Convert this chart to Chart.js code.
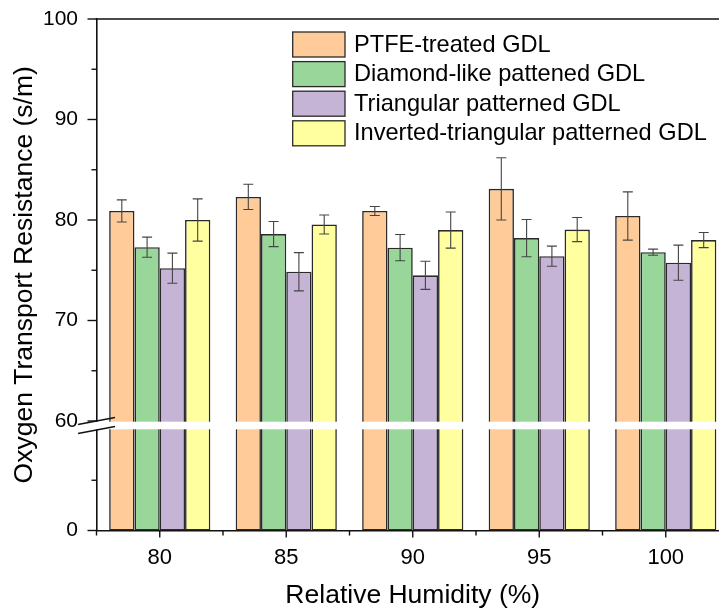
<!DOCTYPE html>
<html><head><meta charset="utf-8">
<script src="https://cdn.jsdelivr.net/npm/chart.js@4.4.0/dist/chart.umd.min.js"></script>
<style>
html,body{margin:0;padding:0;background:#fff;overflow:hidden;width:719px;height:612px}
#wrap{position:absolute;left:0;top:0;width:740px;height:612px}
</style>
</head><body><div id="wrap"><canvas id="c" width="740" height="612"></canvas></div>
<script>
// ---------- data ----------
const categories = ['80', '85', '90', '95', '100'];
const seriesNames = ['PTFE-treated GDL', 'Diamond-like pattened GDL', 'Triangular patterned GDL', 'Inverted-triangular patterned GDL'];
const ptfe        = [80.9, 82.3, 80.9, 83.1, 80.4];
const ptfeErr     = [1.1, 1.25, 0.45, 3.1, 2.4];
const diamond     = [77.3, 78.6, 77.25, 78.2, 76.8];
const diamondErr  = [1.0, 1.25, 1.3, 1.85, 0.3];
const triangular  = [75.2, 74.85, 74.5, 76.4, 75.75];
const triangularErr = [1.5, 1.9, 1.4, 1.0, 1.75];
const inverted    = [80.0, 79.55, 79.0, 79.05, 78.0];
const invertedErr = [2.1, 0.95, 1.8, 1.2, 0.75];
const yTicks   = [0, 30, 60, 65, 70, 75, 80, 85, 90, 95, 100];
const yLabeled = [0, 60, 70, 80, 90, 100];
const yBreak   = [60, 60];   // lower segment ends, upper segment starts
const yRange   = [0, 100];

// ---------- styles ----------
const FONT = "'Liberation Sans', Arial, Helvetica, sans-serif";
const colors = ['#FFCC99', '#99D69A', '#C6B4D7', '#FFFFA0'];
const EDGE = '#2a2a2a';
const LOW_FRAC = 100.5 / 511.5, GAP_FRAC = 9 / 511.5;

class BrokenLinearScale extends Chart.LinearScale {
  buildTicks() { return yTicks.map(v => ({ value: v })); }
  _frac(v) {
    if (v < yBreak[0]) return (v - yRange[0]) / (yBreak[0] - yRange[0]) * LOW_FRAC;
    return LOW_FRAC + GAP_FRAC + (v - yBreak[1]) / (yRange[1] - yBreak[1]) * (1 - LOW_FRAC - GAP_FRAC);
  }
  getPixelForValue(v) { return this.bottom - this._frac(v) * (this.bottom - this.top); }
  getValueForPixel(p) {
    const f = (this.bottom - p) / (this.bottom - this.top);
    if (f < LOW_FRAC) return yRange[0] + f / LOW_FRAC * (yBreak[0] - yRange[0]);
    return yBreak[1] + (f - LOW_FRAC - GAP_FRAC) / (1 - LOW_FRAC - GAP_FRAC) * (yRange[1] - yBreak[1]);
  }
}
BrokenLinearScale.id = 'brokenLinear';
BrokenLinearScale.defaults = Chart.LinearScale.defaults;
Chart.register(BrokenLinearScale);

const values = [ptfe, diamond, triangular, inverted];
const errors = [ptfeErr, diamondErr, triangularErr, invertedErr];

const errorBarPlugin = {
  id: 'errorBars',
  afterDatasetsDraw(chart) {
    const ctx = chart.ctx, ys = chart.scales.y;
    ctx.save();
    ctx.strokeStyle = '#444'; ctx.lineWidth = 1.1;
    chart.data.datasets.forEach((ds, di) => {
      const meta = chart.getDatasetMeta(di);
      meta.data.forEach((bar, i) => {
        const v = ds.data[i], e = ds.errors[i];
        const yt = ys.getPixelForValue(v + e), yb = ys.getPixelForValue(v - e);
        ctx.beginPath();
        ctx.moveTo(bar.x, yt); ctx.lineTo(bar.x, yb);
        ctx.moveTo(bar.x - 5, yt); ctx.lineTo(bar.x + 5, yt);
        ctx.moveTo(bar.x - 5, yb); ctx.lineTo(bar.x + 5, yb);
        ctx.stroke();
      });
    });
    ctx.restore();
  }
};

const decorPlugin = {
  id: 'decor',
  afterDraw(chart) {
    const ctx = chart.ctx, ys = chart.scales.y, xs = chart.scales.x, ca = chart.chartArea;
    ctx.save();
    // break band
    const yUp = ys.getPixelForValue(yBreak[1]);
    const yLow = ys.bottom - LOW_FRAC * (ys.bottom - ys.top);
    ctx.fillStyle = '#fff';
    ctx.fillRect(ca.left - 4, yUp + 0.7, chart.width, yLow - yUp - 1.4);
    // top frame line
    ctx.strokeStyle = '#111'; ctx.lineWidth = 1.6;
    ctx.beginPath(); ctx.moveTo(ca.left - 0.8, ca.top); ctx.lineTo(chart.width, ca.top); ctx.stroke();
    // y ticks
    ctx.lineWidth = 1.4;
    yTicks.forEach(v => {
      const len = yLabeled.includes(v) ? 9 : 5;
      const y = ys.getPixelForValue(v);
      ctx.beginPath(); ctx.moveTo(ca.left - len, y); ctx.lineTo(ca.left, y); ctx.stroke();
    });
    // x ticks
    categories.forEach((c, i) => {
      const x = xs.getPixelForValue(i);
      ctx.beginPath(); ctx.moveTo(x, ca.bottom); ctx.lineTo(x, ca.bottom + 7); ctx.stroke();
    });
    for (let i = 0; i <= categories.length; i++) {
      const x = xs.getPixelForValue(i - 0.5);
      ctx.beginPath(); ctx.moveTo(x, ca.bottom); ctx.lineTo(x, ca.bottom + 5); ctx.stroke();
    }
    // slashes
    ctx.lineWidth = 1.3;
    [yUp, yLow].forEach(y => {
      ctx.beginPath(); ctx.moveTo(ca.left - 18.5, y + 3.5); ctx.lineTo(ca.left + 18.5, y - 3.5); ctx.stroke();
    });
    // legend
    ctx.font = '23.6px ' + FONT; ctx.textBaseline = 'middle'; ctx.textAlign = 'left';
    chart.data.datasets.forEach((ds, i) => {
      const y = 32 + i * 29.6;
      ctx.fillStyle = ds.backgroundColor; ctx.fillRect(292.7, y, 52.3, 25);
      ctx.strokeStyle = EDGE; ctx.lineWidth = 1.3; ctx.strokeRect(292.7, y, 52.3, 25);
      ctx.fillStyle = '#000'; ctx.fillText(ds.label, 354, y + 13);
    });
    ctx.restore();
  }
};

new Chart(document.getElementById('c'), {
  type: 'bar',
  data: {
    labels: categories,
    datasets: seriesNames.map((n, i) => ({
      label: n, data: values[i], errors: errors[i],
      backgroundColor: colors[i], borderColor: EDGE, borderWidth: 1.6, borderSkipped: false,
      categoryPercentage: 0.8, barPercentage: 1.0
    }))
  },
  options: {
    responsive: false, animation: false, devicePixelRatio: 1,
    layout: { padding: { left: 0, right: 11, top: 19, bottom: 0 } },
    plugins: { legend: { display: false }, tooltip: { enabled: false } },
    scales: {
      x: {
        type: 'category', offset: true,
        grid: { display: false, drawTicks: false },
        border: { display: true, color: '#111', width: 1.6 },
        ticks: { color: '#000', font: { family: FONT, size: 22 }, padding: 14, maxRotation: 0, autoSkip: false },
        title: { display: true, text: 'Relative Humidity (%)', color: '#000', font: { family: FONT, size: 26.5 }, padding: { top: 0, bottom: 0 } },
        afterFit(s) { s.height = 81.5; s.paddingLeft = 0; s.paddingRight = 0; }
      },
      y: {
        type: 'brokenLinear', min: yRange[0], max: yRange[1],
        grid: { display: false, drawTicks: false },
        border: { display: true, color: '#111', width: 1.6 },
        ticks: { color: '#000', font: { family: FONT, size: 21 }, padding: 18.5, autoSkip: false,
          callback: v => yLabeled.includes(v) ? String(v) : '' },
        title: { display: true, text: 'Oxygen Transport Resistance (s/m)', color: '#000', font: { family: FONT, size: 26.5 }, padding: { top: 9, bottom: 0 } },
        afterFit(s) { s.width = 96.5; s.paddingTop = 0; s.paddingBottom = 0; }
      }
    }
  },
  plugins: [errorBarPlugin, decorPlugin]
});
</script>
</body></html>
